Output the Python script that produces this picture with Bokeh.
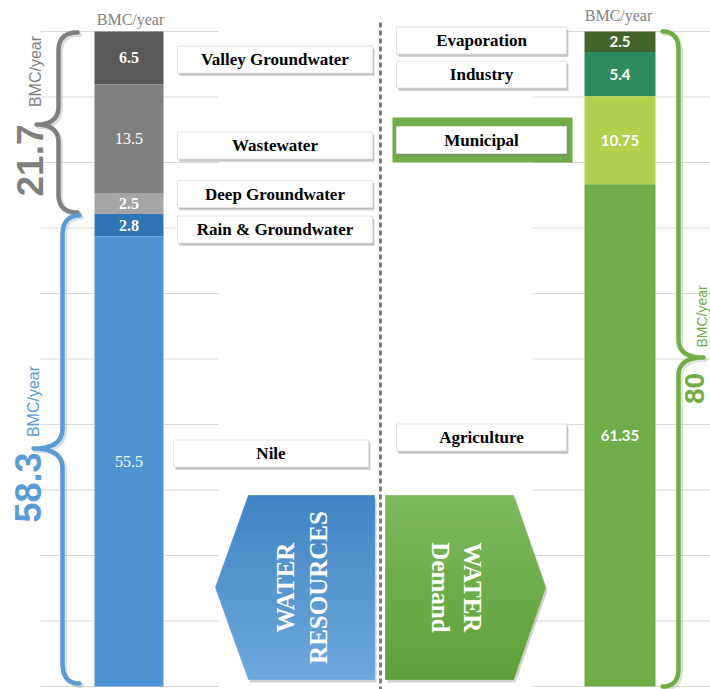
import numpy as np
from bokeh.plotting import figure
from bokeh.models import Range1d, ColumnDataSource
from bokeh.core.properties import value
from bokeh.embed import file_html
from bokeh.resources import INLINE

# ---------------- data ----------------
res_categories = ["Valley Groundwater", "Wastewater", "Deep Groundwater", "Rain & Groundwater", "Nile"]
res_values = [6.5, 13.5, 2.5, 2.8, 55.5]
dem_categories = ["Evaporation", "Industry", "Municipal", "Agriculture"]
dem_values = [2.5, 5.4, 10.75, 61.35]
group_totals = [21.7, 58.3]          # braces on the resources side
demand_total = 80                    # brace on the demand side
grid_ticks = [0, 8, 16, 24, 32, 40, 48, 56, 64, 72, 80]
unit = "BMC/year"

# ---------------- styles / layout ----------------
res_colors = ["#595959", "#7F7F7F", "#A6A6A6", "#2E75B6", "#4E93D1"]
res_value_styles = ["bold", "normal", "bold", "bold", "normal"]
dem_colors = ["#43652B", "#2E8B5E", "#B3CF4E", "#70AD47"]
res_box_x = [274.5, 274.5, 274.5, 274.5, 270.5]
res_box_y = [59, 145, 193.5, 229, 453]
dem_box_y = [40, 74, 139.5, 437]
highlight = "Municipal"

W, H = 710, 689
TOP, BOT = 31, 686
SERIF = value("Liberation Serif")
SANS = value("Liberation Sans")


def ext_range(total):
    s = (BOT - TOP) / total
    return Range1d(start=-(H - BOT) / s, end=total + TOP / s)


p = figure(width=W, height=H, x_range=Range1d(0, W), y_range=Range1d(H, 0),
           x_axis_type=None, y_axis_type=None, output_backend="svg",
           toolbar_location=None, min_border=0, outline_line_color=None,
           background_fill_color="white")
p.extra_y_ranges = {"res": ext_range(sum(res_values)), "dem": ext_range(sum(dem_values))}

# gridlines (two visible spans)
for x0, x1 in [(40, 218), (532, 710)]:
    p.segment(x0=x0, x1=x1, y0=grid_ticks, y1=grid_ticks, y_range_name="dem",
              line_color="#D9D9D9", line_width=1)

# dashed divider
p.segment(x0=[380], x1=[380], y0=[22], y1=[H], line_color="#7F7F7F",
          line_width=3, line_dash="5 3")


def stack(values):
    total = sum(values)
    tops, bottoms = [], []
    cur = total
    for v in values:
        tops.append(cur)
        cur -= v
        bottoms.append(cur)
    return tops, bottoms


rt, rb = stack(res_values)
res_src = ColumnDataSource(dict(top=rt, bottom=rb, mid=[(a + b) / 2 for a, b in zip(rt, rb)],
                                color=res_colors, label=[str(v) for v in res_values],
                                style=res_value_styles))
p.vbar(x=128.5, width=69, top="top", bottom="bottom", fill_color="color",
       line_color=None, source=res_src, y_range_name="res")
p.text(x=128.5, y="mid", text="label", source=res_src, y_range_name="res",
       text_font=SERIF, text_font_size="16px", text_font_style="style",
       text_color="white", text_align="center", text_baseline="middle")

dt, db = stack(dem_values)
dem_src = ColumnDataSource(dict(top=dt, bottom=db, mid=[(a + b) / 2 for a, b in zip(dt, db)],
                                color=dem_colors, label=[str(v) for v in dem_values]))
p.vbar(x=619.5, width=71, top="top", bottom="bottom", fill_color="color",
       line_color=None, source=dem_src, y_range_name="dem")
p.text(x=619.5, y="mid", text="label", source=dem_src, y_range_name="dem",
       text_font=value("Lato"), text_font_size="15px", text_font_style="bold",
       text_color="white", text_align="center", text_baseline="middle")

# unit headers
p.text(x=[130, 618], y=[19, 15], text=[unit, unit], text_font=SERIF,
       text_font_size="16px", text_color="#808080", text_align="center",
       text_baseline="middle")


# label boxes
def boxes(xs, ys, w, h, names):
    p.rect(x=[x + 2 for x in xs], y=[y + 3 for y in ys], width=w, height=h,
           fill_color="#7F7F7F", fill_alpha=0.35, line_color=None)
    p.rect(x=[x + 1 for x in xs], y=[y + 1.5 for y in ys], width=w, height=h,
           fill_color="#7F7F7F", fill_alpha=0.35, line_color=None)
    p.rect(x=xs, y=ys, width=w, height=h, fill_color="white",
           line_color="#E3E3E3", line_width=1)
    p.text(x=xs, y=ys, text=names, text_font=SERIF, text_font_size="17px",
           text_font_style="bold", text_color="black", text_align="center",
           text_baseline="middle")


boxes(res_box_x, res_box_y, 195, 27, res_categories)
hi = dem_categories.index(highlight)
p.rect(x=[482], y=[dem_box_y[hi]], width=180, height=45, fill_color="#70AD47",
       line_color=None)
boxes([481] * len(dem_categories), dem_box_y, 170, 27, dem_categories)


# braces
def quad(p0, c, p1, n=16):
    t = np.linspace(0, 1, n)
    x = (1 - t) ** 2 * p0[0] + 2 * (1 - t) * t * c[0] + t ** 2 * p1[0]
    y = (1 - t) ** 2 * p0[1] + 2 * (1 - t) * t * c[1] + t ** 2 * p1[1]
    return list(x), list(y)


def brace(x_end, x_line, x_tip, y_top, y_bot, y_tip, r, color, shadow):
    xs, ys = [], []
    for seg in [quad((x_end, y_top), (x_line, y_top), (x_line, y_top + r)),
                quad((x_line, y_tip - r), (x_line, y_tip), (x_tip, y_tip)),
                quad((x_tip, y_tip), (x_line, y_tip), (x_line, y_tip + r)),
                quad((x_line, y_bot - r), (x_line, y_bot), (x_end, y_bot))]:
        xs += seg[0]
        ys += seg[1]
    p.line([x + 2 for x in xs], [y + 2 for y in ys], line_color=shadow,
           line_alpha=0.35, line_width=5, line_cap="round", line_join="round")
    p.line(xs, ys, line_color=color, line_width=4.5, line_cap="round",
           line_join="round")


brace(77, 58, 36, 32, 212, 124, 18, "#7F7F7F", "#A0A0A0")
brace(79, 62, 33, 215, 683, 448, 20, "#5B9BD5", "#8FA9C4")
brace(662, 678, 703, 31, 686, 357, 18, "#70AD47", "#9FB58F")

# totals
p.text(x=[29], y=[160], text=[str(group_totals[0])], angle=np.pi / 2,
       text_font=SANS, text_font_size="37px", text_font_style="bold",
       text_color="#7F7F7F", text_align="center", text_baseline="middle")
p.text(x=[27], y=[487], text=[str(group_totals[1])], angle=np.pi / 2,
       text_font=SANS, text_font_size="36px", text_font_style="bold",
       text_color="#5B9BD5", text_align="center", text_baseline="middle")
p.text(x=[694], y=[388], text=[str(demand_total)], angle=np.pi / 2,
       text_font=SANS, text_font_size="28px", text_font_style="bold",
       text_color="#70AD47", text_align="center", text_baseline="middle")
p.text(x=[35, 33], y=[71, 401], text=[unit] * 2, angle=np.pi / 2,
       text_font=SANS, text_font_size="16px",
       text_color=["#7F7F7F", "#5B9BD5"], text_align="center",
       text_baseline="middle")
p.text(x=[701], y=[316], text=[unit], angle=np.pi / 2,
       text_font=SANS, text_font_size="14px",
       text_color="#70AD47", text_align="center", text_baseline="middle")


# gradient pentagons
def mix(c1, c2, t):
    a = [int(c1[i:i + 2], 16) for i in (1, 3, 5)]
    b = [int(c2[i:i + 2], 16) for i in (1, 3, 5)]
    return "#%02x%02x%02x" % tuple(int(round(a[k] + (b[k] - a[k]) * t)) for k in range(3))


def pentagon(x_point, x_mid, x_flat, y_top, y_bot, c_top, c_bot, n=46):
    y_mid = (y_top + y_bot) / 2
    half = y_mid - y_top

    def xb(y):
        return x_point + (x_mid - x_point) * abs(y - y_mid) / half

    outline_x = [x_point, x_mid, x_flat, x_flat, x_mid]
    outline_y = [y_mid, y_top, y_top, y_bot, y_bot]
    p.patch([x + 2 for x in outline_x], [y + 3 for y in outline_y],
            fill_color="black", fill_alpha=0.18, line_color=None)
    edges = np.linspace(y_top, y_bot, n + 1)
    xs, ys, cols = [], [], []
    for i in range(n):
        y0, y1 = edges[i], edges[i + 1]
        xs.append([xb(y0), x_flat, x_flat, xb(y1)])
        ys.append([y0, y0, y1, y1])
        cols.append(mix(c_top, c_bot, (i + 0.5) / n))
    p.patches(xs, ys, fill_color=cols, line_color=cols, line_width=0.7)


pentagon(215, 248, 374, 495, 679, "#3F83C4", "#6DA8DD")
pentagon(545, 513, 385, 495, 679, "#7DB95E", "#5EA036")

p.text(x=[285, 318], y=[587, 587], text=["WATER", "RESOURCES"], angle=np.pi / 2,
       text_font=SERIF, text_font_size="25px", text_font_style="bold",
       text_color="white", text_align="center", text_baseline="middle")
p.text(x=[472, 440], y=[587, 587], text=["WATER", "Demand"], angle=-np.pi / 2,
       text_font=SERIF, text_font_size="25px", text_font_style="bold",
       text_color="white", text_align="center", text_baseline="middle")

open("out.html", "w").write(file_html(p, INLINE))
